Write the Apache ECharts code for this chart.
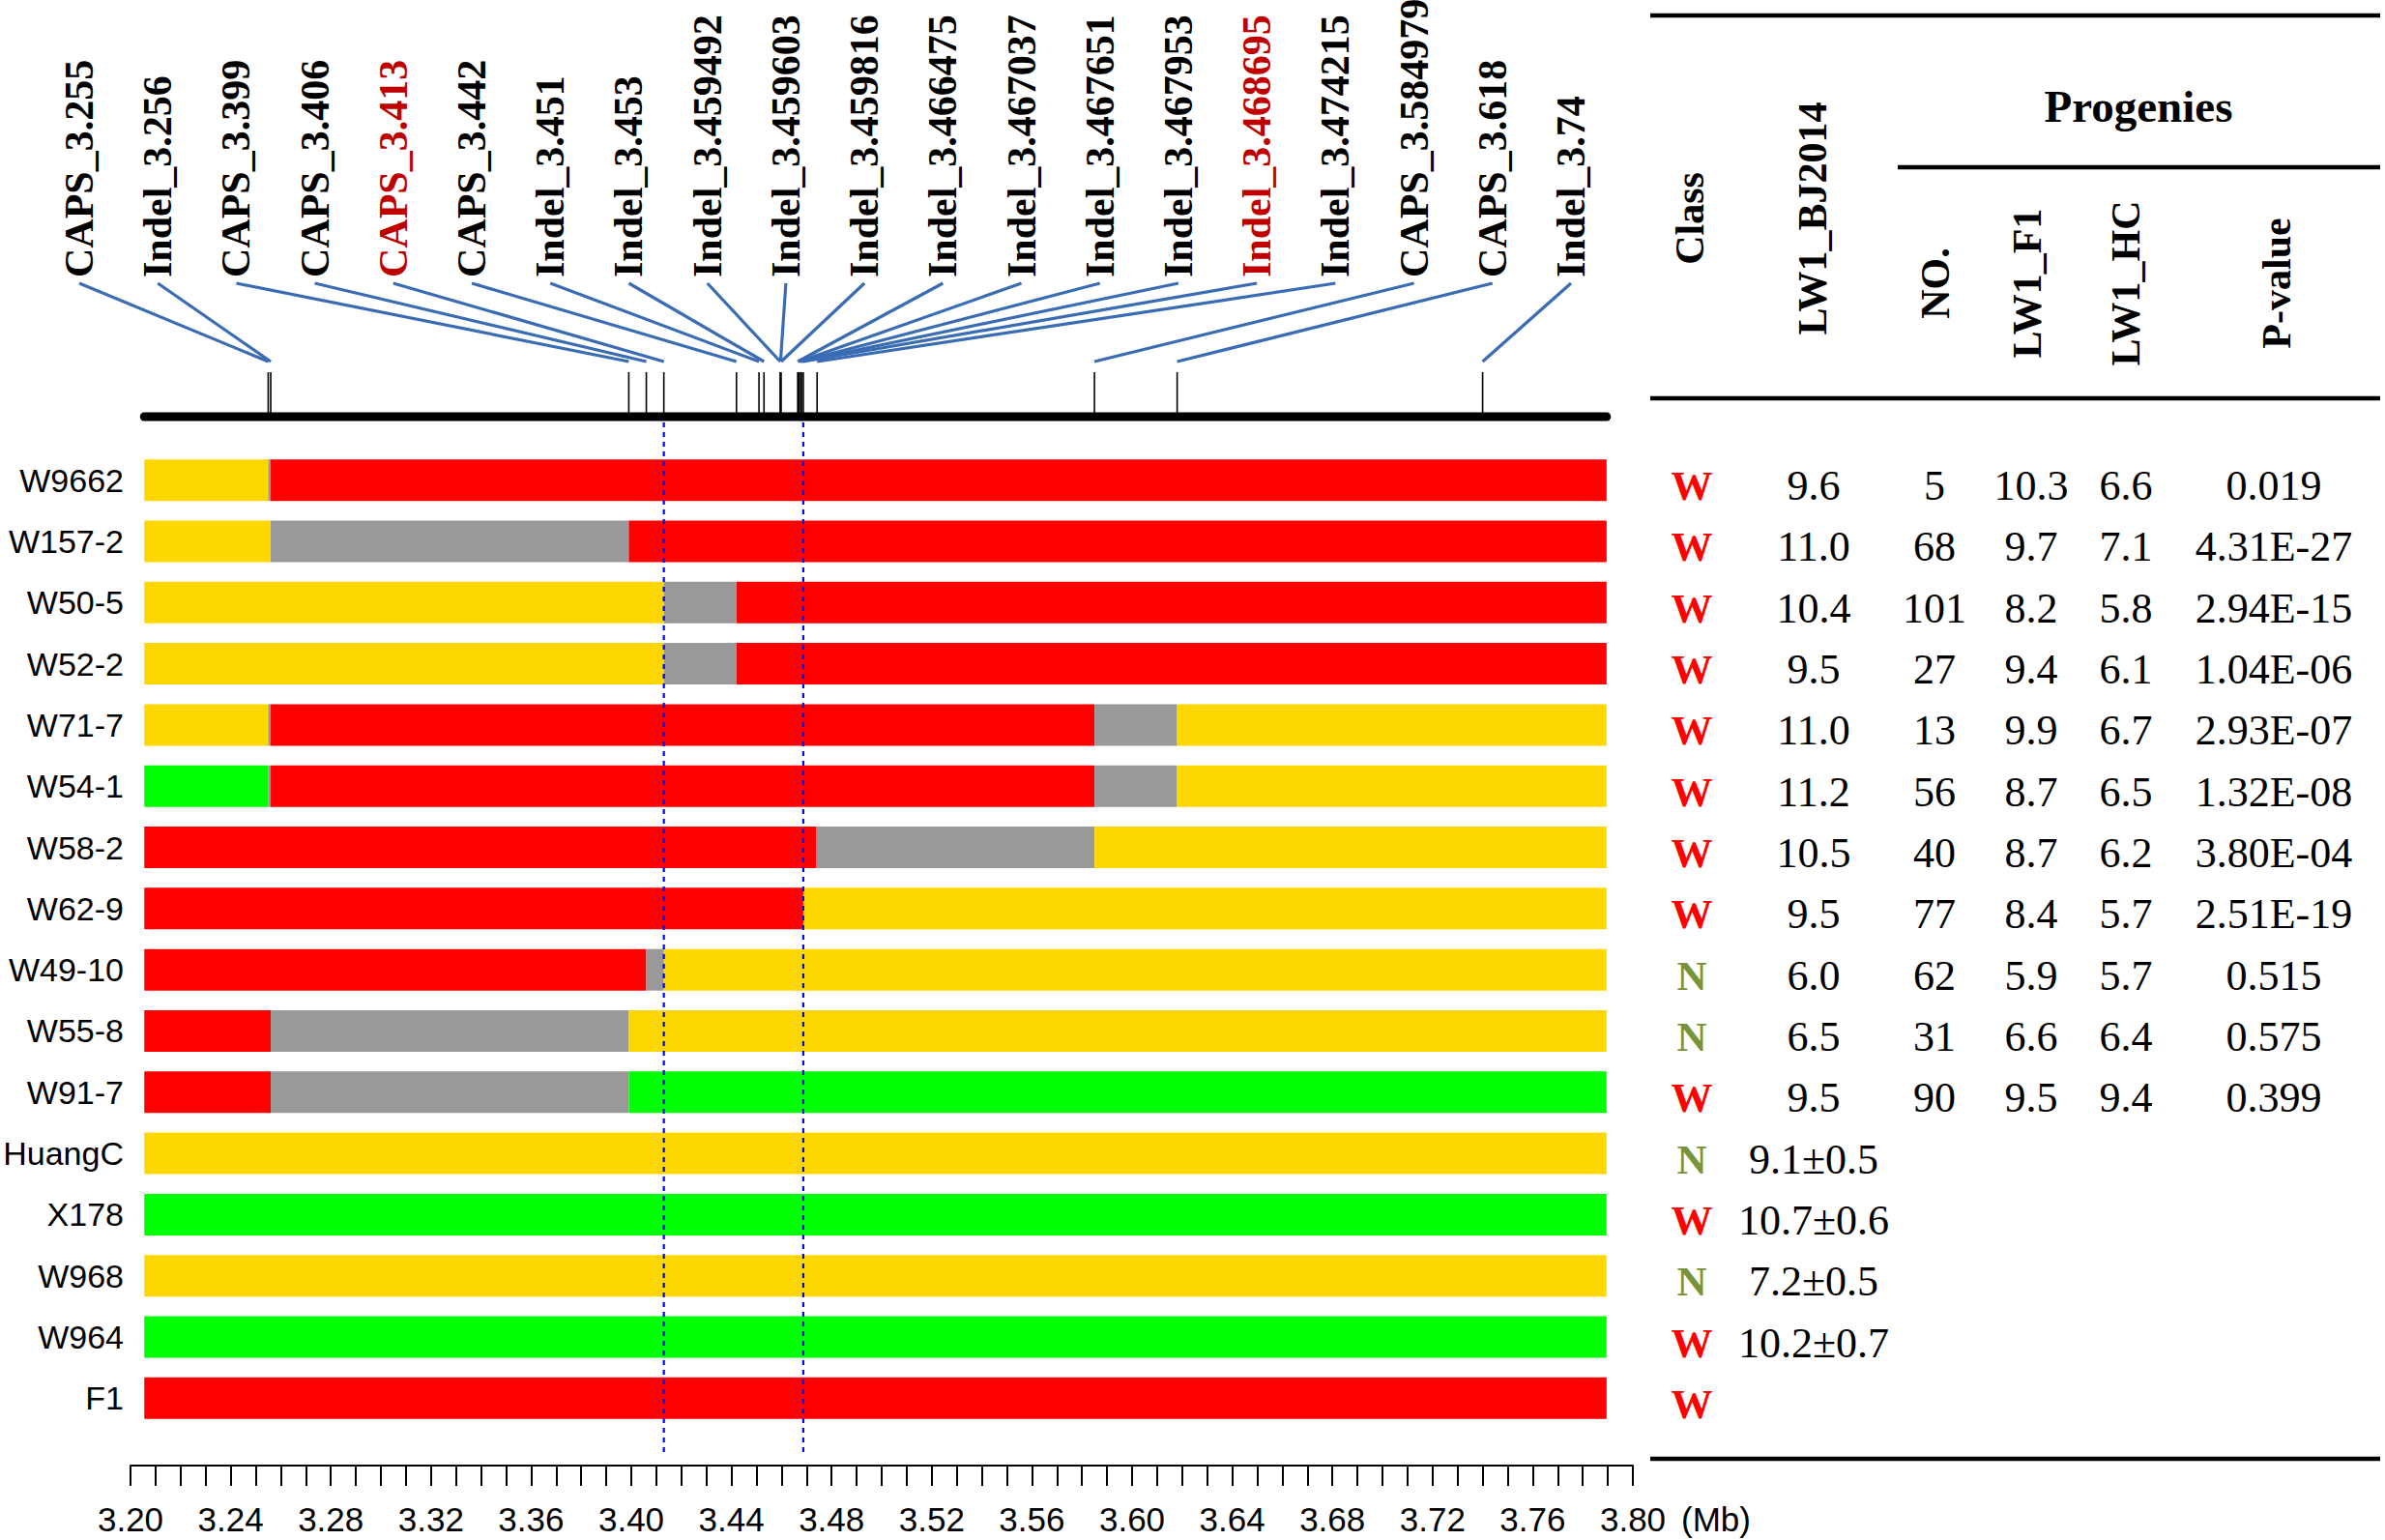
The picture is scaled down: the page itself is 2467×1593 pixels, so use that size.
<!DOCTYPE html>
<html>
<head>
<meta charset="utf-8">
<script src="https://cdn.jsdelivr.net/npm/echarts@6.0.0/dist/echarts.min.js"></script>
<style>
    html, body { margin: 0; padding: 0; background: #fff; }
    #container { width: 2467px; height: 1593px; }
</style>
</head>
<body>
<div id="container"></div>
<script type="text/javascript">
    // ---- data ----
    var rows = ['W9662', 'W157-2', 'W50-5', 'W52-2', 'W71-7', 'W54-1', 'W58-2', 'W62-9',
        'W49-10', 'W55-8', 'W91-7', 'HuangC', 'X178', 'W968', 'W964', 'F1'];

    var barStart = 3.2055, barEnd = 3.7895;
    // breakpoints (Mb) inside each row, and the genotype of each piece between them
    var rowBreaks = [
        [3.255, 3.256], [3.256, 3.399], [3.413, 3.442], [3.413, 3.442],
        [3.255, 3.256, 3.585, 3.618], [3.255, 3.256, 3.585, 3.618],
        [3.474, 3.585], [3.4687], [3.406, 3.413], [3.256, 3.399], [3.256, 3.399],
        [], [], [], [], []
    ];
    var rowGenos = [
        ['Y', 'U', 'R'], ['Y', 'U', 'R'], ['Y', 'U', 'R'], ['Y', 'U', 'R'],
        ['Y', 'U', 'R', 'U', 'Y'], ['G', 'U', 'R', 'U', 'Y'],
        ['R', 'U', 'Y'], ['R', 'Y'], ['R', 'U', 'Y'], ['R', 'U', 'Y'], ['R', 'U', 'G'],
        ['Y'], ['G'], ['Y'], ['G'], ['R']
    ];
    var genoColor = { Y: '#ffd700', R: '#ff0000', G: '#00ff00', U: '#999999' };

    var markerNames = ['CAPS_3.255', 'Indel_3.256', 'CAPS_3.399', 'CAPS_3.406', 'CAPS_3.413',
        'CAPS_3.442', 'Indel_3.451', 'Indel_3.453', 'Indel_3.459492', 'Indel_3.459603',
        'Indel_3.459816', 'Indel_3.466475', 'Indel_3.467037', 'Indel_3.467651', 'Indel_3.467953',
        'Indel_3.468695', 'Indel_3.474215', 'CAPS_3.584979', 'CAPS_3.618', 'Indel_3.74'];
    var markerPos = [3.255, 3.256, 3.399, 3.406, 3.413, 3.442, 3.451, 3.453, 3.459492, 3.459603,
        3.459816, 3.466475, 3.467037, 3.467651, 3.467953, 3.468695, 3.474215, 3.584979, 3.618, 3.74];
    var keyMarkers = ['CAPS_3.413', 'Indel_3.468695'];
    var keyPos = [3.413, 3.468695];

    var classes = ['W', 'W', 'W', 'W', 'W', 'W', 'W', 'W', 'N', 'N', 'W', 'N', 'W', 'N', 'W', 'W'];
    var lw1BJ2014 = ['9.6', '11.0', '10.4', '9.5', '11.0', '11.2', '10.5', '9.5', '6.0', '6.5', '9.5',
        '9.1±0.5', '10.7±0.6', '7.2±0.5', '10.2±0.7', ''];
    var progenyNo = ['5', '68', '101', '27', '13', '56', '40', '77', '62', '31', '90'];
    var lw1F1 = ['10.3', '9.7', '8.2', '9.4', '9.9', '8.7', '8.7', '8.4', '5.9', '6.6', '9.5'];
    var lw1HC = ['6.6', '7.1', '5.8', '6.1', '6.7', '6.5', '6.2', '5.7', '5.7', '6.4', '9.4'];
    var pValues = ['0.019', '4.31E-27', '2.94E-15', '1.04E-06', '2.93E-07', '1.32E-08', '3.80E-04',
        '2.51E-19', '0.515', '0.575', '0.399'];

    // ---- build series data ----
    var segData = [];
    rows.forEach(function (r, i) {
        var edges = [barStart].concat(rowBreaks[i]).concat([barEnd]);
        for (var k = 0; k < rowGenos[i].length; k++) {
            segData.push([edges[k], edges[k + 1], i, rowGenos[i][k]]);
        }
    });
    var markerData = markerPos.map(function (p, i) { return [p, 0, i]; });
    var tableData = rows.map(function (r, i) { return [3.5, i]; });

    var serif = '"Liberation Serif", "Times New Roman", serif';
    var sans = '"Liberation Sans", Arial, sans-serif';

    var dom = document.getElementById('container');
    var myChart = echarts.init(dom, null, { renderer: 'svg' });

    function header(text, x, y) {
        return { type: 'text', x: x, y: y, rotation: Math.PI / 2,
            style: { text: text, fill: '#000', fontSize: 42, fontWeight: 'bold', fontFamily: serif,
                align: 'center', verticalAlign: 'middle' } };
    }
    function rule(x1, y, x2) {
        return { type: 'line', shape: { x1: x1, y1: y, x2: x2, y2: y }, style: { stroke: '#000', lineWidth: 4.5 } };
    }

    var option = {
        backgroundColor: '#fff',
        animation: false,
        grid: { left: 135, right: 778, top: 465, bottom: 115, containLabel: false },
        xAxis: {
            type: 'value',
            min: 3.2,
            max: 3.8,
            interval: 0.04,
            offset: 38,
            splitLine: { show: false },
            axisLine: { show: true, lineStyle: { color: '#000', width: 2 } },
            axisTick: { show: true, length: 21, lineStyle: { color: '#000', width: 2 } },
            minorTick: { show: true, splitNumber: 4, length: 21, lineStyle: { color: '#000', width: 2 } },
            axisLabel: {
                color: '#000', fontSize: 35, fontFamily: sans, margin: 38,
                showMinLabel: true, showMaxLabel: true,
                formatter: function (v) { return v.toFixed(2); }
            },
            name: '(Mb)',
            nameLocation: 'end',
            nameGap: 50,
            nameTextStyle: { color: '#000', fontSize: 35, fontFamily: sans, verticalAlign: 'top', padding: [38, 0, 0, 0] }
        },
        yAxis: {
            type: 'category',
            data: rows,
            inverse: true,
            axisLine: { show: false },
            axisTick: { show: false },
            splitLine: { show: false },
            axisLabel: { color: '#000', fontSize: 34, fontFamily: sans, margin: 7 }
        },
        series: [
            {
                // genotype blocks of each line
                type: 'custom',
                data: segData,
                encode: { x: [0, 1], y: 2 },
                renderItem: function (params, api) {
                    var a = api.coord([api.value(0), api.value(2)]);
                    var b = api.coord([api.value(1), api.value(2)]);
                    var h = api.size([0, 1])[1] * 0.68;
                    return {
                        type: 'rect',
                        shape: { x: a[0], y: a[1] - h / 2, width: b[0] - a[0], height: h },
                        style: { fill: genoColor[segData[params.dataIndex][3]] }
                    };
                }
            },
            {
                // chromosome bar
                type: 'custom',
                data: [[barStart, barEnd, 0]],
                encode: { x: [0, 1], y: 2 },
                clip: false,
                renderItem: function (params, api) {
                    var a = api.coord([api.value(0), 0]);
                    var b = api.coord([api.value(1), 0]);
                    return {
                        type: 'line',
                        shape: { x1: a[0], y1: 431, x2: b[0], y2: 431 },
                        style: { stroke: '#000', lineWidth: 9, lineCap: 'round' }
                    };
                }
            },
            {
                // marker ticks, connectors and names
                type: 'custom',
                data: markerData,
                encode: { x: 0, y: 1 },
                clip: false,
                renderItem: function (params, api) {
                    var i = params.dataIndex;
                    var x = api.coord([api.value(0), 0])[0];
                    var lx = 82 + i * (1625 - 82) / (markerNames.length - 1);
                    var red = keyMarkers.indexOf(markerNames[i]) >= 0;
                    return {
                        type: 'group',
                        children: [
                            { type: 'line', shape: { x1: x, y1: 385, x2: x, y2: 428 },
                              style: { stroke: '#000', lineWidth: 1.6 } },
                            { type: 'line', shape: { x1: lx, y1: 293, x2: x, y2: 374 },
                              style: { stroke: '#3a6cb4', lineWidth: 3.2 } },
                            { type: 'text', x: lx, y: 287, rotation: Math.PI / 2,
                              style: { text: markerNames[i], fill: red ? '#c00000' : '#000',
                                  fontSize: 42, fontWeight: 'bold', fontFamily: serif,
                                  align: 'left', verticalAlign: 'middle' } }
                        ]
                    };
                }
            },
            {
                // dotted guides at the two key markers
                type: 'custom',
                data: keyPos.map(function (p) { return [p, 0]; }),
                encode: { x: 0, y: 1 },
                clip: false,
                z: 5,
                renderItem: function (params, api) {
                    var x = api.coord([api.value(0), 0])[0];
                    return {
                        type: 'line',
                        shape: { x1: x, y1: 437, x2: x, y2: 1502 },
                        style: { stroke: '#0000ff', lineWidth: 2.2, lineDash: [5, 5] }
                    };
                }
            },
            {
                // table body aligned with the rows
                type: 'custom',
                data: tableData,
                encode: { x: 0, y: 1 },
                clip: false,
                renderItem: function (params, api) {
                    var i = params.dataIndex;
                    var y = api.coord([3.5, i])[1] + 6;
                    var txt = function (x, s) {
                        return { type: 'text', x: x, y: y,
                            style: { text: s, fill: '#000', fontSize: 44, fontFamily: serif,
                                align: 'center', verticalAlign: 'middle' } };
                    };
                    var kids = [
                        { type: 'text', x: 1750, y: y,
                          style: { text: classes[i], fill: classes[i] === 'W' ? '#ff0000' : '#77933c',
                              fontSize: 43, fontWeight: 'bold', fontFamily: serif,
                              align: 'center', verticalAlign: 'middle' } },
                        txt(1876, lw1BJ2014[i])
                    ];
                    if (i < progenyNo.length) {
                        kids.push(txt(2001, progenyNo[i]), txt(2101, lw1F1[i]),
                            txt(2199, lw1HC[i]), txt(2352, pValues[i]));
                    }
                    return { type: 'group', children: kids };
                }
            }
        ],
        graphic: [
            rule(1707, 16, 2462),
            rule(1963, 173, 2462),
            rule(1707, 412, 2462),
            rule(1707, 1509, 2462),
            { type: 'text', x: 2212, y: 110, style: { text: 'Progenies', fill: '#000', fontSize: 47, fontWeight: 'bold', fontFamily: serif, align: 'center', verticalAlign: 'middle' } },
            header('Class', 1748, 226),
            header('LW1_BJ2014', 1875, 226),
            header('NO.', 2002, 293),
            header('LW1_F1', 2097, 293),
            header('LW1_HC', 2199, 293),
            header('P-value', 2355, 293)
        ]
    };
    if (option && typeof option === 'object') {
        myChart.setOption(option, true);
    }
</script>
</body>
</html>
